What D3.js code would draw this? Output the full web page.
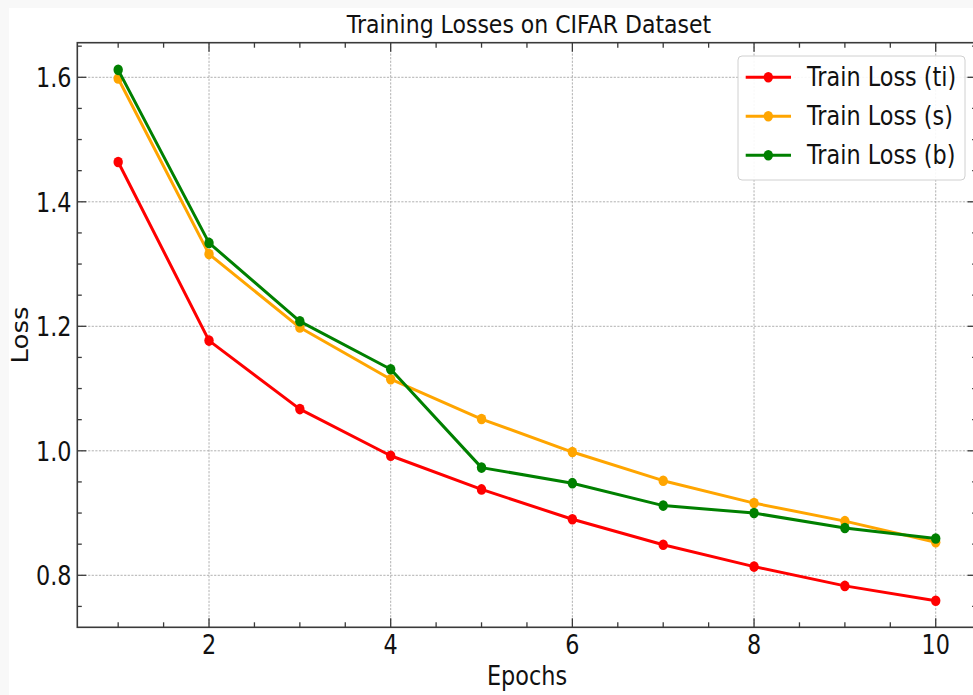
<!DOCTYPE html>
<html>
<head>
<meta charset="utf-8">
<script src="https://cdn.jsdelivr.net/npm/d3@7"></script>
<style>
  html, body { margin: 0; padding: 0; background: #f8f8f8; }
  text { font-family: "DejaVu Sans", sans-serif; fill: #111; }
</style>
</head>
<body>
<div id="viz"></div>
<script>
// data
var epochs = [1, 2, 3, 4, 5, 6, 7, 8, 9, 10];
var lossTi = [1.464, 1.177, 1.067, 0.992, 0.938, 0.890, 0.849, 0.814, 0.783, 0.759];
var lossS  = [1.598, 1.316, 1.198, 1.115, 1.051, 0.998, 0.952, 0.916, 0.887, 0.853];
var lossB  = [1.612, 1.334, 1.208, 1.131, 0.973, 0.948, 0.912, 0.900, 0.876, 0.859];
var seriesNames = ["Train Loss (ti)", "Train Loss (s)", "Train Loss (b)"];
var seriesColors = ["#ff0000", "#ffa500", "#008000"];
var xTicks = [2, 4, 6, 8, 10];
var yTicks = [0.8, 1.0, 1.2, 1.4, 1.6];

var width = 973, height = 695;
var sx = 0.86; // the picture is squeezed sideways, so text is too
var fontSize = 26;

var svg = d3.select("#viz").append("svg")
    .attr("width", width)
    .attr("height", height);

svg.append("rect")
    .attr("width", width).attr("height", height)
    .attr("fill", "#f8f8f8");
svg.append("rect")
    .attr("x", 9).attr("y", 8)
    .attr("width", width - 9).attr("height", height - 8)
    .attr("fill", "white");

var plot = {left: 77.3, right: 976.6, top: 42.7, bottom: 627.3};

var x = d3.scaleLinear()
    .domain([0.55, 10.45])
    .range([plot.left, plot.right]);

var y = d3.scaleLinear()
    .domain([0.71647, 1.65558])
    .range([plot.bottom, plot.top]);

function label(g, tx, ty, str, anchor, size) {
  return g.append("text")
      .attr("transform", "translate(" + tx + "," + ty + ") scale(" + sx + ",1)")
      .attr("text-anchor", anchor)
      .attr("font-size", size || fontSize)
      .text(str);
}

/* grid */
var grid = svg.append("g").attr("class", "grid");
grid.selectAll("line.gx")
    .data(xTicks)
    .enter().append("line")
    .attr("x1", function(d) { return x(d); })
    .attr("x2", function(d) { return x(d); })
    .attr("y1", plot.top).attr("y2", plot.bottom)
    .attr("stroke", "#a8a8a8").attr("stroke-width", 0.9)
    .attr("stroke-dasharray", "2.2,1.4");
grid.selectAll("line.gy")
    .data(yTicks)
    .enter().append("line")
    .attr("y1", function(d) { return y(d); })
    .attr("y2", function(d) { return y(d); })
    .attr("x1", plot.left).attr("x2", plot.right)
    .attr("stroke", "#a8a8a8").attr("stroke-width", 0.9)
    .attr("stroke-dasharray", "2.2,1.4");

/* series */
var allSeries = [lossTi, lossS, lossB];
var line = d3.line()
    .x(function(d, i) { return x(epochs[i]); })
    .y(function(d) { return y(d); });

allSeries.forEach(function(vals, k) {
  var g = svg.append("g").attr("class", "series");
  g.append("path")
      .datum(vals)
      .attr("d", line)
      .attr("fill", "none")
      .attr("stroke", seriesColors[k])
      .attr("stroke-width", 3)
      .attr("stroke-linejoin", "round");
  g.selectAll("ellipse")
      .data(vals)
      .enter().append("ellipse")
      .attr("cx", function(d, i) { return x(epochs[i]); })
      .attr("cy", function(d) { return y(d); })
      .attr("rx", 4.7)
      .attr("ry", 5.3)
      .attr("fill", seriesColors[k]);
});

/* spines and inward ticks */
var axisColor = "#3a3a3a";
var frame = svg.append("g").attr("class", "frame");
frame.append("rect")
    .attr("x", plot.left).attr("y", plot.top)
    .attr("width", plot.right - plot.left)
    .attr("height", plot.bottom - plot.top)
    .attr("fill", "none")
    .attr("stroke", axisColor)
    .attr("stroke-width", 1.6);

var xMinor = d3.range(1, 10.01, 0.5).filter(function(d) { return xTicks.indexOf(d) == -1; });
var yMinor = d3.range(0.75, 1.651, 0.05).filter(function(d) {
  return yTicks.every(function(t) { return Math.abs(t - d) > 1e-6; });
});

function xTickMarks(vals, len) {
  frame.selectAll(null).data(vals).enter().append("line")
      .attr("x1", function(d) { return x(d); }).attr("x2", function(d) { return x(d); })
      .attr("y1", plot.bottom).attr("y2", plot.bottom - len)
      .attr("stroke", axisColor).attr("stroke-width", 1.3);
  frame.selectAll(null).data(vals).enter().append("line")
      .attr("x1", function(d) { return x(d); }).attr("x2", function(d) { return x(d); })
      .attr("y1", plot.top).attr("y2", plot.top + len)
      .attr("stroke", axisColor).attr("stroke-width", 1.3);
}
function yTickMarks(vals, len) {
  frame.selectAll(null).data(vals).enter().append("line")
      .attr("y1", function(d) { return y(d); }).attr("y2", function(d) { return y(d); })
      .attr("x1", plot.left).attr("x2", plot.left + len)
      .attr("stroke", axisColor).attr("stroke-width", 1.3);
  frame.selectAll(null).data(vals).enter().append("line")
      .attr("y1", function(d) { return y(d); }).attr("y2", function(d) { return y(d); })
      .attr("x1", plot.right).attr("x2", plot.right - len)
      .attr("stroke", axisColor).attr("stroke-width", 1.3);
}
xTickMarks(xTicks, 9);
xTickMarks(xMinor, 5);
yTickMarks(yTicks, 9);
yTickMarks(yMinor, 4.5);

/* tick labels */
var fmtY = d3.format(".1f");
xTicks.forEach(function(d) {
  label(svg, x(d), 653.5, String(d), "middle");
});
yTicks.forEach(function(d) {
  label(svg, 71.5, y(d) + 10, fmtY(d), "end");
});

/* titles */
label(svg, 529, 32.7, "Training Losses on CIFAR Dataset", "middle", 25.6);
label(svg, 527, 685, "Epochs", "middle");
svg.append("text")
    .attr("transform", "translate(28.3," + ((plot.top + plot.bottom) / 2) + ") rotate(-90) scale(1," + sx + ")")
    .attr("text-anchor", "middle")
    .attr("font-size", fontSize)
    .text("Loss");

/* legend */
var legend = svg.append("g").attr("class", "legend");
legend.append("rect")
    .attr("x", 738).attr("y", 56)
    .attr("width", 227).attr("height", 124)
    .attr("rx", 4).attr("ry", 4)
    .attr("fill", "white").attr("fill-opacity", 0.9)
    .attr("stroke", "#d0d0d0").attr("stroke-width", 1);

seriesNames.forEach(function(name, k) {
  var cy = 77.3 + k * 39;
  legend.append("line")
      .attr("x1", 745.7).attr("x2", 791)
      .attr("y1", cy).attr("y2", cy)
      .attr("stroke", seriesColors[k]).attr("stroke-width", 3);
  legend.append("ellipse")
      .attr("cx", 768.3).attr("cy", cy)
      .attr("rx", 4.7).attr("ry", 5.3)
      .attr("fill", seriesColors[k]);
  label(legend, 807, cy + 8.8, name, "start");
});
</script>
</body>
</html>
